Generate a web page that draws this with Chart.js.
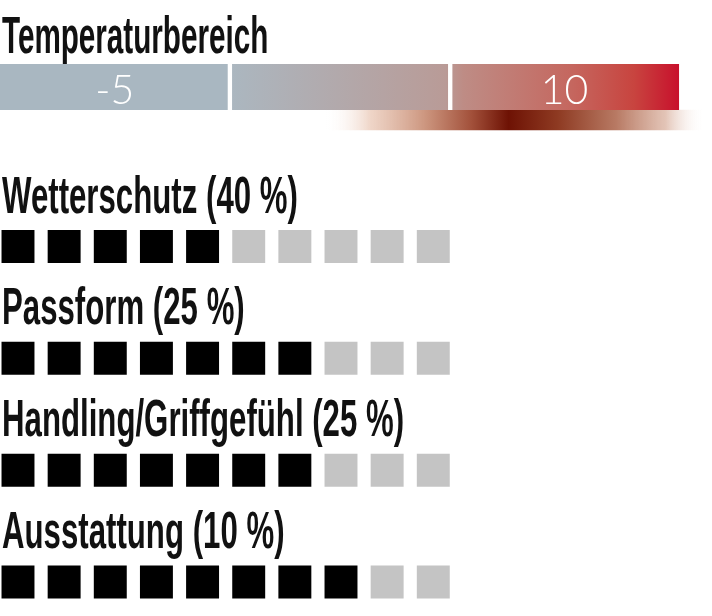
<!DOCTYPE html>
<html lang="de">
<head>
<meta charset="utf-8">
<title>Temperaturbereich</title>
<script src="https://cdn.jsdelivr.net/npm/chart.js@4.4.1/dist/chart.umd.min.js"></script>
<style>
  html, body { margin: 0; padding: 0; background: #fff; }
  #wrap { width: 712px; height: 616px; overflow: hidden; }
  canvas { display: block; }
</style>
</head>
<body>
<div id="wrap">
  <canvas id="tempChart" width="712" height="140"></canvas>
  <canvas id="ratingChart" width="712" height="476"></canvas>
</div>
<script>
// Temperaturbereich (Skala in °C, drei Abschnitte)
const tempTitle = 'Temperaturbereich';
const tempSegments = [[-8.75, -1.15], [-1.15, 6.15], [6.15, 13.75]];
const tempSegmentLabels = ['-5', '', '10'];
// Bereich des Produkts (Verlauf unter der Skala)
const productRange = [2.0, 14.6];
const productPeak = 8.1;

// Bewertung, Punkte von 10
const criteria = ['Wetterschutz (40 %)', 'Passform (25 %)', 'Handling/Griffgefühl (25 %)', 'Ausstattung (10 %)'];
const scores = [5, 7, 7, 8];
const maxScore = 10;

const LABEL_FONT = 'bold 52px "Liberation Sans", Arial, sans-serif';
const coolColor = '#a9b7c1';

// condensed headline text (the original uses a narrow typeface)
function condensedText(ctx, text, x, y, squeeze) {
  ctx.save();
  ctx.font = LABEL_FONT;
  ctx.fillStyle = '#111';
  ctx.textAlign = 'left';
  ctx.textBaseline = 'alphabetic';
  ctx.translate(x, y);
  ctx.scale(squeeze, 1);
  ctx.fillText(text, 0, 0);
  ctx.restore();
}

function scaleColor(c) {
  const chart = c.chart;
  if (c.dataIndex === 0 || !chart.chartArea) return coolColor;
  const x = chart.scales.x;
  const g = chart.ctx.createLinearGradient(
    x.getPixelForValue(tempSegments[1][0]), 0,
    x.getPixelForValue(tempSegments[2][1]), 0);
  g.addColorStop(0, '#abb7c0');
  g.addColorStop(0.48, '#b99b97');
  g.addColorStop(0.52, '#be8c85');
  g.addColorStop(0.76, '#c5675f');
  g.addColorStop(0.9, '#c8443f');
  g.addColorStop(1, '#c8102c');
  return g;
}

function glowColor(c) {
  const chart = c.chart;
  if (!chart.chartArea) return '#7a1a08';
  const x = chart.scales.x;
  const x0 = x.getPixelForValue(productRange[0]);
  const x1 = x.getPixelForValue(productRange[1]);
  const p = (x.getPixelForValue(productPeak) - x0) / (x1 - x0);
  const g = chart.ctx.createLinearGradient(x0, 0, x1, 0);
  g.addColorStop(0, 'rgba(255,255,255,0)');
  g.addColorStop(p * 0.25, 'rgba(236,206,190,0.85)');
  g.addColorStop(p * 0.55, '#cc957e');
  g.addColorStop(p * 0.8, '#a2503a');
  g.addColorStop(p, '#6e1204');
  g.addColorStop(p + (1 - p) * 0.25, '#8e3a22');
  g.addColorStop(p + (1 - p) * 0.55, '#b87a64');
  g.addColorStop(p + (1 - p) * 0.8, 'rgba(222,186,170,0.85)');
  g.addColorStop(1, 'rgba(255,255,255,0)');
  return g;
}

const tempLabelsPlugin = {
  id: 'tempLabels',
  afterDatasetsDraw(chart) {
    const ctx = chart.ctx;
    condensedText(ctx, tempTitle, 2, 53, 0.57);
    const meta = chart.getDatasetMeta(0);
    ctx.save();
    ctx.font = '300 41px Lato, "Liberation Sans", sans-serif';
    ctx.fillStyle = '#fff';
    ctx.textAlign = 'center';
    ctx.textBaseline = 'alphabetic';
    meta.data.forEach((bar, i) => {
      if (!tempSegmentLabels[i]) return;
      ctx.fillText(tempSegmentLabels[i], (bar.x + bar.base) / 2, bar.y + 17);
    });
    ctx.restore();
  }
};

new Chart(document.getElementById('tempChart'), {
  type: 'bar',
  data: {
    labels: ['Skala', 'Produkt'],
    datasets: [{
      label: 'Skala',
      data: tempSegments.map(s => ({ y: 'Skala', x: s })),
      backgroundColor: scaleColor,
      borderColor: '#fff',
      borderWidth: c => c.dataIndex === 0 ? { right: 2 } : c.dataIndex === 1 ? { left: 3, right: 2 } : { left: 3 },
      borderSkipped: false,
      barThickness: 46,
      grouped: false,
      clip: false
    }, {
      label: 'Produkt',
      data: [{ y: 'Produkt', x: productRange }],
      backgroundColor: glowColor,
      borderWidth: 0,
      barThickness: 20,
      grouped: false,
      clip: false
    }]
  },
  options: {
    indexAxis: 'y',
    responsive: false,
    animation: false,
    events: [],
    layout: { autoPadding: false, padding: { top: 70.5, bottom: 3.5, left: 0, right: 0 } },
    scales: {
      x: { type: 'linear', min: -8.75, max: 14.84, display: false },
      y: { type: 'category', display: false, offset: true }
    },
    plugins: { legend: { display: false }, tooltip: { enabled: false } }
  },
  plugins: [tempLabelsPlugin]
});

// squares: filled up to the score, grey for the rest
const filled = [];
const empty = [];
scores.forEach((s, row) => {
  for (let i = 1; i <= maxScore; i++) {
    (i <= s ? filled : empty).push({ x: i, y: row + 1 });
  }
});

const criteriaLabelsPlugin = {
  id: 'criteriaLabels',
  afterDatasetsDraw(chart) {
    const ys = chart.scales.y;
    criteria.forEach((name, row) => {
      condensedText(chart.ctx, name, 2, ys.getPixelForValue(row + 1) - 34, 0.6);
    });
  }
};

new Chart(document.getElementById('ratingChart'), {
  type: 'scatter',
  data: {
    datasets: [{
      label: 'Punkte',
      data: filled,
      pointStyle: 'rect',
      pointRadius: 23.3,
      backgroundColor: '#000',
      borderWidth: 0,
      clip: false
    }, {
      label: 'offen',
      data: empty,
      pointStyle: 'rect',
      pointRadius: 23.3,
      backgroundColor: '#c4c4c4',
      borderWidth: 0,
      clip: false
    }]
  },
  options: {
    responsive: false,
    animation: false,
    events: [],
    layout: { autoPadding: false, padding: { top: 106.5, bottom: 34, left: 0, right: 0 } },
    scales: {
      x: { type: 'linear', min: 0.61, max: 16.04, display: false },
      y: { type: 'linear', min: 1, max: 4, reverse: true, display: false }
    },
    plugins: { legend: { display: false }, tooltip: { enabled: false } }
  },
  plugins: [criteriaLabelsPlugin]
});
</script>
</body>
</html>
